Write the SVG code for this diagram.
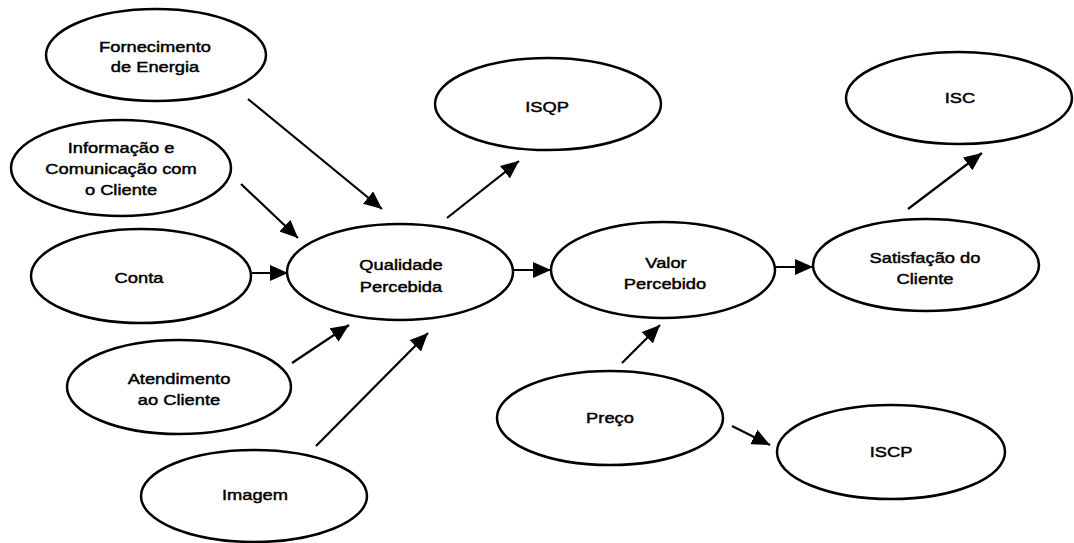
<svg xmlns="http://www.w3.org/2000/svg" width="1074" height="543" viewBox="0 0 1074 543">
<style>
.n ellipse{fill:#fff;stroke:#000;stroke-width:2.5}
.n text{font-family:"Liberation Sans",Arial,sans-serif;font-size:15px;fill:#000;stroke:#000;stroke-width:0.45;text-anchor:middle}
.c line{stroke:#000;stroke-width:2.2;marker-end:url(#ah)}
</style>
<defs>
<marker id="ah" markerUnits="userSpaceOnUse" viewBox="0 0 18 16" refX="18" refY="8" markerWidth="18" markerHeight="16" orient="auto">
<path d="M0,0 L18,8 L0,16 z" fill="#000"/>
</marker>
</defs>
<rect width="1074" height="543" fill="#fff"/>
<g id="fornecimento" class="n"><ellipse cx="156" cy="55" rx="110" ry="46"/>
<text transform="translate(155,52) scale(1.22,1)">Fornecimento</text>
<text transform="translate(155,72) scale(1.22,1)">de Energia</text></g>
<g id="informacao" class="n"><ellipse cx="121" cy="168" rx="110" ry="48"/>
<text transform="translate(121,153) scale(1.22,1)">Informação e</text>
<text transform="translate(121,174) scale(1.22,1)">Comunicação com</text>
<text transform="translate(121,195) scale(1.22,1)">o Cliente</text></g>
<g id="conta" class="n"><ellipse cx="141" cy="276" rx="110" ry="47"/>
<text transform="translate(139,283) scale(1.22,1)">Conta</text></g>
<g id="qualidade" class="n"><ellipse cx="400" cy="272" rx="113" ry="48"/>
<text transform="translate(401,270) scale(1.22,1)">Qualidade</text>
<text transform="translate(401,292) scale(1.22,1)">Percebida</text></g>
<g id="atendimento" class="n"><ellipse cx="179" cy="387" rx="112" ry="47"/>
<text transform="translate(179,384) scale(1.22,1)">Atendimento</text>
<text transform="translate(179,405) scale(1.22,1)">ao Cliente</text></g>
<g id="imagem" class="n"><ellipse cx="254" cy="496" rx="113" ry="46"/>
<text transform="translate(255,500) scale(1.22,1)">Imagem</text></g>
<g id="isqp" class="n"><ellipse cx="548" cy="104" rx="113" ry="46"/>
<text transform="translate(547,112) scale(1.22,1)">ISQP</text></g>
<g id="valor" class="n"><ellipse cx="663" cy="270" rx="112" ry="48"/>
<text transform="translate(666,268) scale(1.22,1)">Valor</text>
<text transform="translate(665,289) scale(1.22,1)">Percebido</text></g>
<g id="satisfacao" class="n"><ellipse cx="926" cy="265" rx="113" ry="46"/>
<text transform="translate(925,263) scale(1.22,1)">Satisfação do</text>
<text transform="translate(925,284) scale(1.22,1)">Cliente</text></g>
<g id="isc" class="n"><ellipse cx="959" cy="98" rx="113" ry="46"/>
<text transform="translate(960,103) scale(1.22,1)">ISC</text></g>
<g id="preco" class="n"><ellipse cx="610" cy="418" rx="113" ry="47"/>
<text transform="translate(610,423) scale(1.22,1)">Preço</text></g>
<g id="iscp" class="n"><ellipse cx="891" cy="452" rx="114" ry="47"/>
<text transform="translate(891,457) scale(1.22,1)">ISCP</text></g>
<g id="connectors" class="c">
<line x1="248" y1="99" x2="382" y2="209"/>
<line x1="241" y1="184" x2="298" y2="238"/>
<line x1="252" y1="273" x2="288" y2="273"/>
<line x1="292" y1="363" x2="349" y2="325"/>
<line x1="316" y1="446" x2="428" y2="333"/>
<line x1="447" y1="218" x2="519" y2="161"/>
<line x1="513" y1="270" x2="551" y2="270"/>
<line x1="776" y1="267" x2="813" y2="267"/>
<line x1="908" y1="209" x2="982" y2="153"/>
<line x1="622" y1="363" x2="660" y2="325"/>
<line x1="732" y1="426" x2="770" y2="445"/>
</g>
</svg>
